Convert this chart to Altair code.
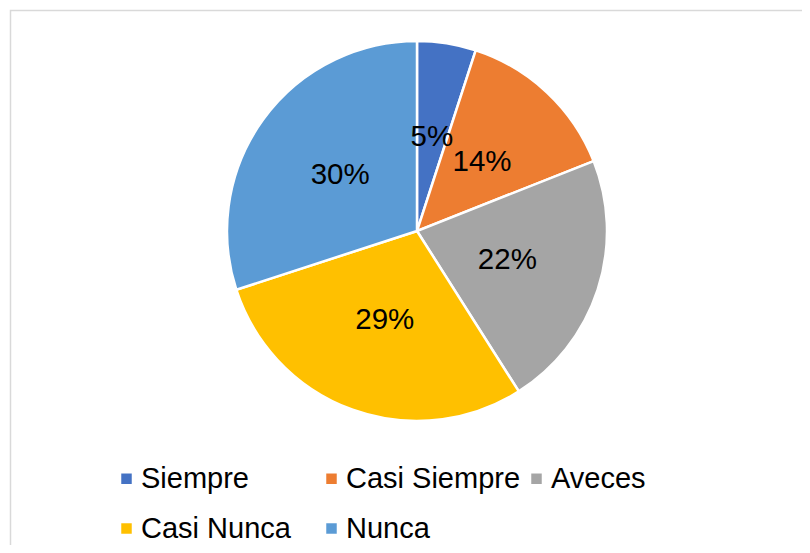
import altair as alt
import pandas as pd

categories = ["Siempre", "Casi Siempre", "Aveces", "Casi Nunca", "Nunca"]
values = [5, 14, 22, 29, 30]
colors = ["#4472C4", "#ED7D31", "#A5A5A5", "#FFC000", "#5B9BD5"]

df = pd.DataFrame({"cat": categories, "val": values, "order": list(range(len(categories)))})
df["label"] = [f"{v}%" for v in values]

FONT = "Liberation Sans"
CX, CY, R = 409, 223, 190

base = alt.Chart(df).encode(
    theta=alt.Theta("val:Q", stack=True),
    order=alt.Order("order:Q"),
    x=alt.value(CX),
    y=alt.value(CY),
)

pie = base.mark_arc(outerRadius=R, stroke="white", strokeWidth=2.5).encode(
    color=alt.Color(
        "cat:N",
        scale=alt.Scale(domain=categories, range=colors),
        legend=alt.Legend(
            title=None,
            orient="none",
            legendX=104,
            legendY=456,
            direction="horizontal",
            columns=3,
            gridAlign="all",
            symbolType="square",
            symbolSize=110,
            symbolStrokeWidth=0,
            labelFont=FONT,
            labelFontSize=29,
            labelColor="black",
            labelOffset=0,
            labelLimit=0,
            columnPadding=1,
            rowPadding=20,
            padding=0,
        ),
    )
)

text = base.mark_text(radius=95, font=FONT, fontSize=29.5, color="black").encode(
    text="label:N"
)

border = alt.Chart(pd.DataFrame({"a": [0]})).mark_rect(
    fillOpacity=0, stroke="#d9d9d9", strokeWidth=1.5
).encode(
    x=alt.value(2.5), y=alt.value(2.5), x2=alt.value(1200), y2=alt.value(1200)
)

chart = alt.layer(border, pie, text).properties(
    width=794,
    height=537,
    autosize=alt.AutoSizeParams(type="none"),
    padding=0,
).configure_view(strokeWidth=0)

chart.save("out.html", embed_options={"renderer": "svg", "actions": False})
